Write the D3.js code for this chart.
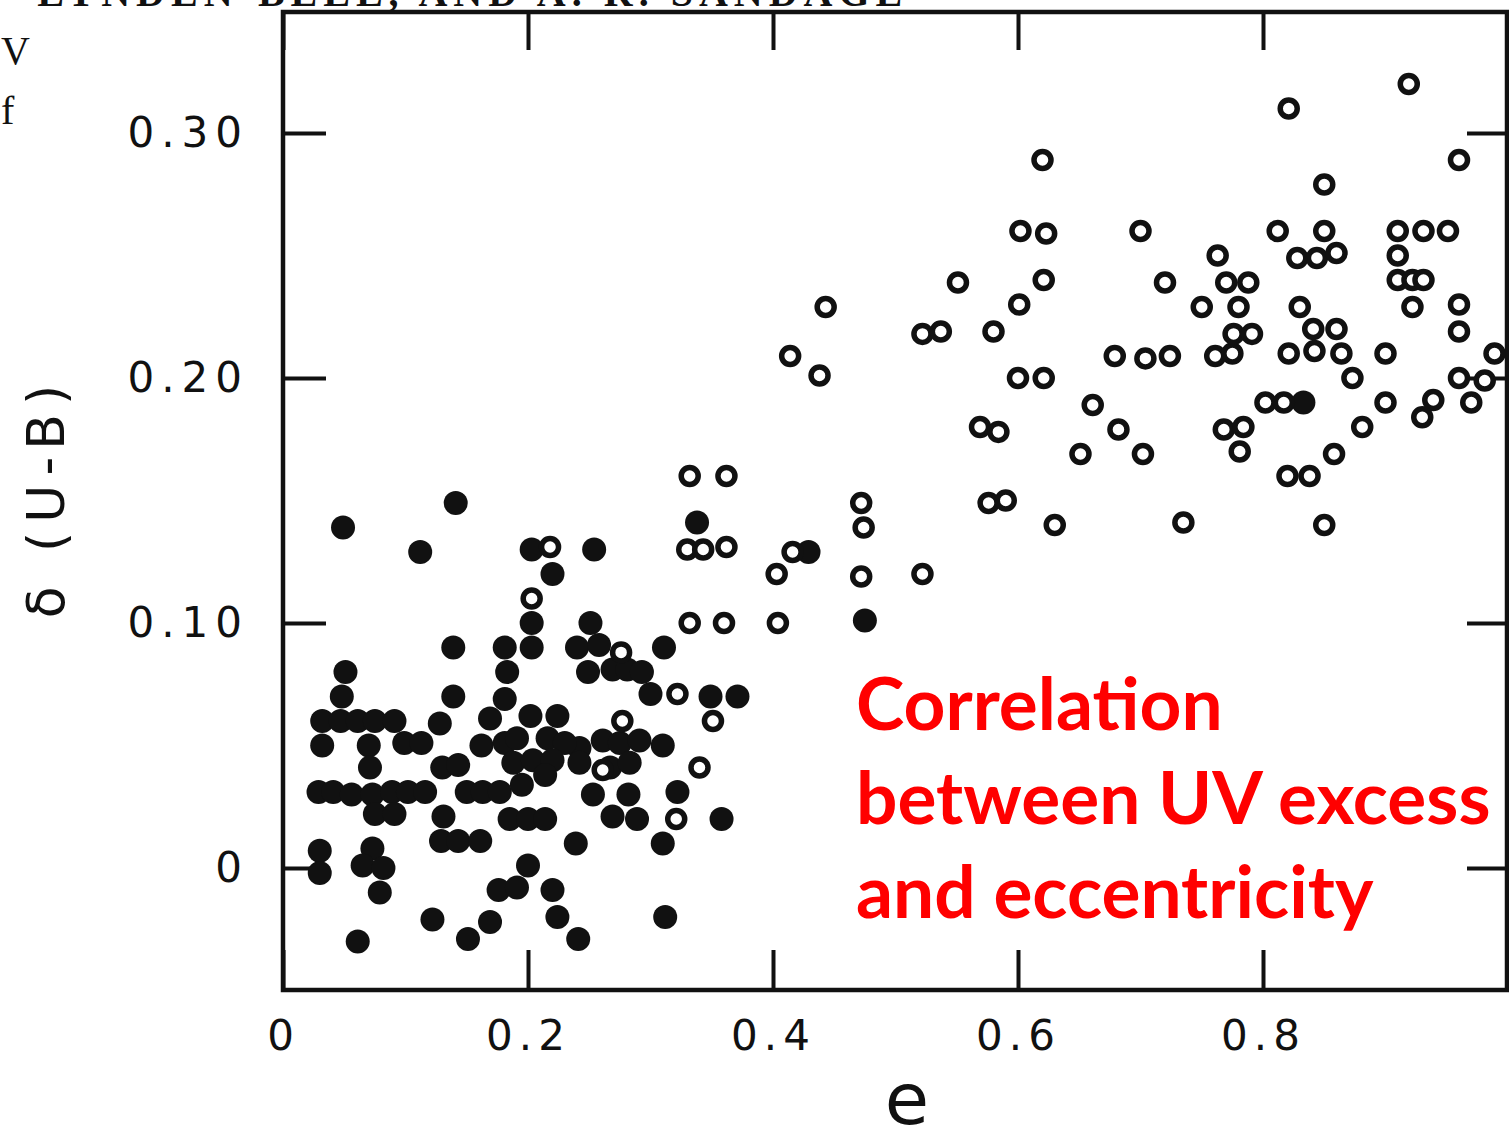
<!DOCTYPE html>
<html>
<head>
<meta charset="utf-8">
<script src="https://cdn.jsdelivr.net/npm/d3@7"></script>
<style>
  body { margin: 0; background: #fff; }
  svg { display: block; }
  .axis text { font-family: 'DejaVu Sans', sans-serif; fill: #111; }
</style>
</head>
<body>
<svg id="graph" width="1509" height="1142"></svg>
<script>
// eccentricity e vs UV excess delta(U-B)
// filled dots: [e, delta]
var filledPts = [
  [0.049, 0.139], [0.141, 0.149], [0.112, 0.129], [0.203, 0.130], [0.254, 0.130],
  [0.220, 0.120], [0.203, 0.100], [0.251, 0.100], [0.203, 0.090], [0.240, 0.090],
  [0.258, 0.091], [0.311, 0.090], [0.139, 0.090], [0.181, 0.090], [0.051, 0.080],
  [0.183, 0.080], [0.249, 0.080], [0.269, 0.081], [0.281, 0.081], [0.293, 0.080],
  [0.048, 0.070], [0.139, 0.070], [0.181, 0.069], [0.300, 0.071], [0.349, 0.070],
  [0.371, 0.070], [0.032, 0.060], [0.047, 0.060], [0.061, 0.060], [0.075, 0.060],
  [0.091, 0.060], [0.128, 0.059], [0.169, 0.061], [0.202, 0.062], [0.224, 0.062],
  [0.032, 0.050], [0.070, 0.050], [0.099, 0.051], [0.113, 0.051], [0.162, 0.050],
  [0.181, 0.051], [0.242, 0.049], [0.261, 0.052], [0.275, 0.051], [0.291, 0.052],
  [0.310, 0.050], [0.071, 0.041], [0.130, 0.041], [0.143, 0.042], [0.242, 0.043],
  [0.267, 0.041], [0.283, 0.043],
  [0.029, 0.031], [0.041, 0.031], [0.056, 0.030], [0.073, 0.030], [0.089, 0.031],
  [0.102, 0.031], [0.116, 0.031], [0.150, 0.031], [0.163, 0.031], [0.177, 0.031],
  [0.253, 0.030], [0.282, 0.030], [0.322, 0.031],
  [0.075, 0.022], [0.091, 0.022], [0.131, 0.021], [0.185, 0.020], [0.200, 0.020],
  [0.214, 0.020], [0.269, 0.021], [0.289, 0.020], [0.358, 0.020],
  [0.129, 0.011], [0.143, 0.011], [0.161, 0.011], [0.239, 0.010], [0.310, 0.010],
  [0.030, 0.007], [0.030, -0.002], [0.073, 0.008], [0.065, 0.001], [0.082, 0.000],
  [0.200, 0.001], [0.079, -0.010], [0.176, -0.009], [0.191, -0.008], [0.220, -0.009],
  [0.122, -0.021], [0.169, -0.022], [0.224, -0.020], [0.312, -0.020],
  [0.061, -0.030], [0.151, -0.029], [0.241, -0.029],
  [0.191, 0.053], [0.216, 0.053], [0.230, 0.051], [0.188, 0.043], [0.204, 0.044],
  [0.220, 0.044], [0.195, 0.034], [0.214, 0.038],
  [0.338, 0.141], [0.429, 0.129], [0.475, 0.101], [0.833, 0.190]
];

// open circles: [e, delta]
var openPts = [
  [0.218, 0.131], [0.203, 0.110], [0.276, 0.088], [0.322, 0.071], [0.277, 0.060],
  [0.351, 0.060], [0.261, 0.040], [0.340, 0.041], [0.321, 0.020],
  [0.332, 0.160], [0.362, 0.160], [0.330, 0.130], [0.343, 0.130], [0.362, 0.131],
  [0.332, 0.100], [0.360, 0.100], [0.404, 0.100], [0.403, 0.120], [0.416, 0.129],
  [0.472, 0.119], [0.522, 0.120], [0.472, 0.149], [0.474, 0.139],
  [0.414, 0.209], [0.438, 0.201], [0.443, 0.229], [0.522, 0.218], [0.537, 0.219],
  [0.551, 0.239], [0.580, 0.219], [0.601, 0.230], [0.602, 0.260], [0.623, 0.259],
  [0.620, 0.289], [0.621, 0.240], [0.600, 0.200], [0.621, 0.200], [0.569, 0.180],
  [0.584, 0.178], [0.576, 0.149], [0.590, 0.150], [0.630, 0.140], [0.651, 0.169],
  [0.661, 0.189], [0.679, 0.209], [0.682, 0.179], [0.702, 0.169], [0.700, 0.260],
  [0.704, 0.208], [0.724, 0.209], [0.720, 0.239], [0.735, 0.141], [0.750, 0.229],
  [0.763, 0.250], [0.761, 0.209], [0.775, 0.210], [0.770, 0.239], [0.788, 0.239],
  [0.780, 0.229], [0.776, 0.218], [0.791, 0.218], [0.768, 0.179], [0.784, 0.180],
  [0.781, 0.170], [0.802, 0.190], [0.817, 0.190], [0.812, 0.260], [0.821, 0.310],
  [0.821, 0.210], [0.820, 0.160], [0.838, 0.160], [0.828, 0.249], [0.844, 0.249],
  [0.860, 0.251], [0.830, 0.229], [0.841, 0.220], [0.860, 0.220], [0.842, 0.211],
  [0.864, 0.210], [0.850, 0.279], [0.850, 0.260], [0.850, 0.140], [0.858, 0.169],
  [0.873, 0.200], [0.881, 0.180], [0.900, 0.210], [0.900, 0.190], [0.910, 0.260],
  [0.910, 0.250], [0.910, 0.240], [0.922, 0.240], [0.931, 0.240], [0.922, 0.229],
  [0.919, 0.320], [0.931, 0.260], [0.951, 0.260], [0.939, 0.191], [0.930, 0.184],
  [0.960, 0.289], [0.960, 0.230], [0.960, 0.219], [0.960, 0.200], [0.970, 0.190],
  [0.981, 0.199], [0.989, 0.210]
];

var xTicks = [0, 0.2, 0.4, 0.6, 0.8];
var xTickLabels = ['0', '0.2', '0.4', '0.6', '0.8'];
var yTicks = [0, 0.10, 0.20, 0.30];
var yTickLabels = ['0', '0.10', '0.20', '0.30'];
var noteLines = ['Correlation', 'between UV excess', 'and eccentricity'];

const frame = { left: 283, right: 1507, top: 12, bottom: 990 };

const svg = d3.select('#graph');

var x = d3.scaleLinear()
    .domain([0, 1])
    .range([283, 1508]);

var y = d3.scaleLinear()
    .domain([0, 0.30])
    .range([868, 133]);

// scan header remnants at the top-left
svg.append('text')
    .attr('x', 2).attr('y', 6)
    .attr('font-family', 'Liberation Serif, serif')
    .attr('font-size', 40)
    .attr('font-weight', 'bold')
    .attr('letter-spacing', 6)
    .attr('fill', '#111')
    .text('· LYNDEN-BELL, AND A. R. SANDAGE');
svg.append('text')
    .attr('x', 1).attr('y', 64)
    .attr('font-family', 'Liberation Serif, serif')
    .attr('font-size', 40)
    .attr('fill', '#111')
    .text('V');
svg.append('text')
    .attr('x', 1).attr('y', 124)
    .attr('font-family', 'Liberation Serif, serif')
    .attr('font-size', 40)
    .attr('fill', '#111')
    .text('f');

// frame
svg.append('rect')
    .attr('x', frame.left)
    .attr('y', frame.top)
    .attr('width', frame.right - frame.left)
    .attr('height', frame.bottom - frame.top)
    .attr('fill', 'none')
    .attr('stroke', '#111')
    .attr('stroke-width', 4.5);

function styleAxis(g) {
    g.select('.domain').remove();
    g.selectAll('.tick line').attr('stroke', '#111').attr('stroke-width', 4);
}

// left axis with labels
svg.append('g')
    .attr('class', 'y axis')
    .attr('transform', 'translate(' + frame.left + ',0)')
    .call(d3.axisLeft(y).tickValues(yTicks)
        .tickFormat((d, i) => yTickLabels[i])
        .tickSizeInner(-43).tickSizeOuter(0).tickPadding(34))
    .call(styleAxis)
    .selectAll('text')
    .attr('font-size', 42)
    .attr('letter-spacing', 7);

// right axis, ticks only
svg.append('g')
    .attr('class', 'y axis')
    .attr('transform', 'translate(' + frame.right + ',0)')
    .call(d3.axisRight(y).tickValues(yTicks).tickFormat('')
        .tickSizeInner(-40).tickSizeOuter(0))
    .call(styleAxis);

// bottom axis with labels
svg.append('g')
    .attr('class', 'x axis')
    .attr('transform', 'translate(0,' + frame.bottom + ')')
    .call(d3.axisBottom(x).tickValues(xTicks)
        .tickFormat((d, i) => xTickLabels[i])
        .tickSizeInner(-40).tickSizeOuter(0).tickPadding(30))
    .call(styleAxis)
    .selectAll('text')
    .attr('font-size', 42)
    .attr('letter-spacing', 6);

// top axis, ticks only
svg.append('g')
    .attr('class', 'x axis')
    .attr('transform', 'translate(0,' + frame.top + ')')
    .call(d3.axisTop(x).tickValues(xTicks).tickFormat('')
        .tickSizeInner(-38).tickSizeOuter(0))
    .call(styleAxis);

// axis titles
svg.append('text')
    .attr('x', 907)
    .attr('y', 1124)
    .attr('text-anchor', 'middle')
    .attr('font-family', 'DejaVu Sans, sans-serif')
    .attr('font-size', 72)
    .attr('fill', '#111')
    .text('e');

svg.append('text')
    .attr('transform', 'translate(64,497) rotate(-90)')
    .attr('text-anchor', 'middle')
    .attr('font-family', 'DejaVu Sans, sans-serif')
    .attr('font-size', 52)
    .attr('letter-spacing', 9)
    .attr('fill', '#111')
    .text('δ (U-B)');

// points
svg.append('g').selectAll('circle').data(filledPts)
    .enter().append('circle')
    .attr('cx', d => x(d[0]))
    .attr('cy', d => y(d[1]))
    .attr('r', 12)
    .attr('fill', '#111');

svg.append('g').selectAll('circle').data(openPts)
    .enter().append('circle')
    .attr('cx', d => x(d[0]))
    .attr('cy', d => y(d[1]))
    .attr('r', 8.5)
    .attr('fill', '#fff')
    .attr('stroke', '#111')
    .attr('stroke-width', 5.5);

// red annotation
svg.append('text')
    .attr('font-family', 'Lato, sans-serif')
    .attr('font-weight', 'bold')
    .attr('font-size', 73)
    .attr('fill', '#ff0000')
    .selectAll('tspan').data(noteLines)
    .enter().append('tspan')
    .attr('x', 856)
    .attr('y', (d, i) => 730 + i * 94)
    .text(d => d);
</script>
</body>
</html>
